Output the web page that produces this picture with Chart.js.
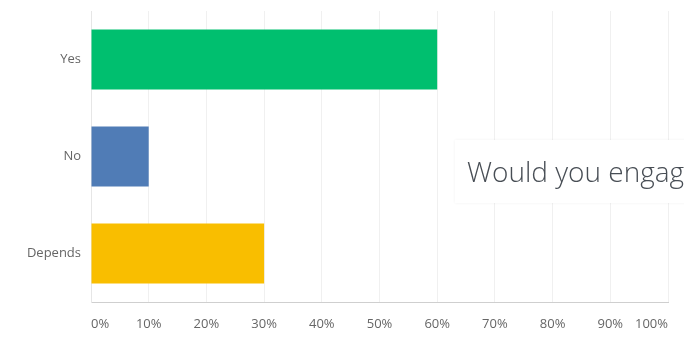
<!DOCTYPE html>
<html>
<head>
<meta charset="utf-8">
<script src="https://cdn.jsdelivr.net/npm/chart.js@4/dist/chart.umd.min.js"></script>
<style>
  html, body { margin: 0; padding: 0; background: #fff; overflow: hidden; }
  #wrap { position: relative; width: 684px; height: 337px; overflow: hidden; }
  #title {
    position: absolute; left: 455px; top: 140px; width: 260px; height: 63px;
    background: #fff; box-shadow: 0 0 3px rgba(0,0,0,0.06);
    font-family: "Open Sans", sans-serif; font-weight: 300; font-size: 28px;
    color: #484e55; line-height: 63px; padding-left: 12px; white-space: nowrap;
    box-sizing: border-box;
  }
</style>
</head>
<body>
<div id="wrap">
  <canvas id="answerChart" width="684" height="337"></canvas>
  <div id="title">Would you engage</div>
</div>
<script>
const answers = ['Yes', 'No', 'Depends'];
const percentages = [60, 10, 30];
const barColors = ['#00bf6f', '#507cb6', '#f9be00'];
const tickLabels = ['0%', '10%', '20%', '30%', '40%', '50%', '60%', '70%', '80%', '90%', '100%'];

document.addEventListener("DOMContentLoaded", function() {
    const ctx = document.getElementById('answerChart').getContext('2d');
    new Chart(ctx, {
        type: 'bar',
        data: {
            labels: answers,
            datasets: [{
                data: percentages,
                backgroundColor: barColors,
                borderWidth: 0,
                barPercentage: 0.62,
                categoryPercentage: 1
            }]
        },
        options: {
            indexAxis: 'y',
            responsive: false,
            animation: false,
            layout: { padding: { top: 11, right: 16, left: 0, bottom: 0 } },
            plugins: { legend: { display: false }, tooltip: { enabled: false } },
            scales: {
                x: {
                    min: 0, max: 100,
                    afterFit: scale => { scale.height = 35; },
                    afterBuildTicks: scale => {
                        scale.ticks = tickLabels.map((t, i) => ({ value: i * 10 }));
                    },
                    ticks: {
                        align: 'inner',
                        padding: 14,
                        color: '#666',
                        font: { family: 'Open Sans', size: 13 },
                        callback: (v, i) => tickLabels[i]
                    },
                    grid: { color: '#f0f0f0', drawTicks: false },
                    border: { color: '#cfcfcf' }
                },
                y: {
                    afterFit: scale => {
                        scale.width = 91;
                        scale.paddingTop = 0;
                        scale.paddingBottom = 0;
                    },
                    ticks: {
                        padding: 10,
                        color: '#666',
                        font: { family: 'Open Sans', size: 13 }
                    },
                    grid: { display: false, drawTicks: false },
                    border: { color: '#e6e6e6' }
                }
            }
        }
    });
});
</script>
</body>
</html>
